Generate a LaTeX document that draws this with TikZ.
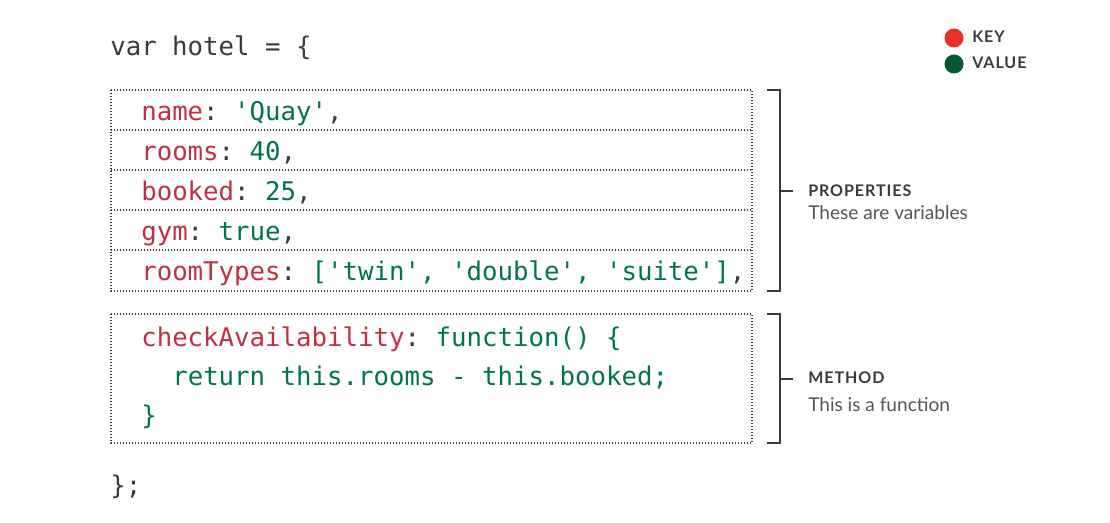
\documentclass[tikz,border=0pt]{standalone}
\usepackage{fontspec}
\setmainfont{Lato}
\setmonofont{DejaVu Sans Mono}
\newfontfamily\capfont[LetterSpace=6]{Lato}
\usepackage{tikz}

\definecolor{keyred}{RGB}{192,48,66}
\definecolor{valgreen}{RGB}{0,116,76}
\definecolor{punct}{RGB}{58,58,58}
\definecolor{dotgray}{RGB}{60,60,60}
\definecolor{dotred}{RGB}{228,50,40}
\definecolor{dotgreen}{RGB}{0,90,50}
\definecolor{notegray}{RGB}{85,85,85}

\newcommand{\ky}[1]{\textcolor{keyred}{#1}}
\newcommand{\vl}[1]{\textcolor{valgreen}{#1}}

\tikzset{
  code/.style={anchor=base west,inner sep=0pt,text=punct,font=\fontsize{19.3}{23}\ttfamily},
  dotbox/.style={draw=dotgray,line width=0.9pt,dash pattern=on 0.9pt off 1.35pt},
  brace/.style={draw=punct,line width=1.5pt},
  head/.style={anchor=base west,inner sep=0pt,text=punct,font=\capfont\bfseries\fontsize{12}{14}\selectfont},
  note/.style={anchor=base west,inner sep=0pt,text=notegray,font=\fontsize{14.3}{17}\selectfont}
}

\begin{document}
\begin{tikzpicture}[x=0.75pt,y=0.75pt,yscale=-1,xscale=1]
\useasboundingbox (0,0) rectangle (1110,523);

%Legend
\fill[dotred] (954,38) circle (9.5);
\fill[dotgreen] (954,64) circle (9.5);
\node[head] (key) at (972,42.5) {KEY};
\node[head] (value) at (972,68.5) {VALUE};

%Shape: Rectangle (properties)
\draw[dotbox] (111,90) rectangle (752,291);
\foreach \y in {130,170,210,250}
  \draw[dotbox] (111,\y) -- (752,\y);
%Shape: Rectangle (method)
\draw[dotbox] (111,314) rectangle (752,443);

%Brackets
\draw[brace] (767,90) -- (780,90) -- (780,291) -- (767,291);
\draw[brace] (780,191) -- (793,191);
\draw[brace] (767,314) -- (780,314) -- (780,443) -- (767,443);
\draw[brace] (780,379) -- (793,379);

% Text Node
\node[code] (hotel) at (110,56) {var hotel = \{};
% Text Node
\node[code] (name) at (141,121) {\ky{name}: \vl{'Quay'},};
% Text Node
\node[code] (rooms) at (141,161) {\ky{rooms}: \vl{40},};
% Text Node
\node[code] (booked) at (141,201) {\ky{booked}: \vl{25},};
% Text Node
\node[code] (gym) at (141,241) {\ky{gym}: \vl{true},};
% Text Node
\node[code] (types) at (141,281) {\ky{roomTypes}: \vl{['twin', 'double', 'suite']},};
% Text Node
\node[code] (check) at (141,347) {\ky{checkAvailability}: \vl{function() \{}};
% Text Node
\node[code] (ret) at (172,386) {\vl{return this.rooms - this.booked;}};
% Text Node
\node[code] (close) at (141,425) {\vl{\}}};
% Text Node
\node[code] (end) at (110,494) {\};};

% Text Node
\node[head] (props) at (808,197) {PROPERTIES};
\node[note] (propsnote) at (808,220) {These are variables};
% Text Node
\node[head] (meth) at (808,384) {METHOD};
\node[note] (methnote) at (808,412) {This is a function};

\end{tikzpicture}
\end{document}
